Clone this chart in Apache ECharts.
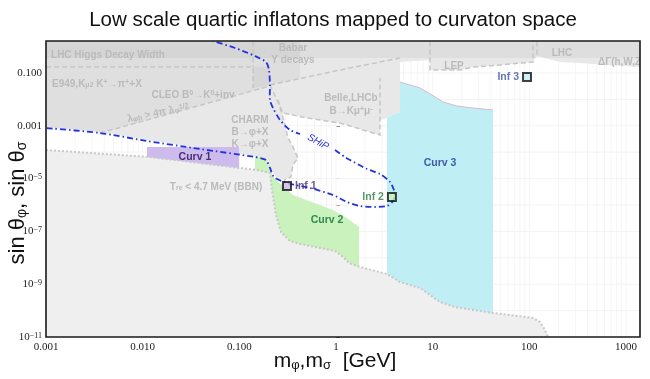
<!DOCTYPE html>
<html><head><meta charset="utf-8">
<script src="https://cdn.jsdelivr.net/npm/echarts@6/dist/echarts.min.js"></script>
<style>html,body{margin:0;padding:0;background:#fff}#c{width:650px;height:379px}</style>
</head><body><div id="c"></div>
<script>
// Every point is [log10(m / GeV), log10(sin θ)]
const xTickLabels = {'-3':'0.001','-2':'0.010','-1':'0.100','0':'1','1':'10','2':'100','3':'1000'};
const yTickLabels = {'-1':'0.100','-3':'0.001','-5':'10{s|−5}','-7':'10{s|−7}','-9':'10{s|−9}','-11':'10{s|−11}'};

const bbnEdge = [[-3.000,-3.917],[-1.924,-4.182],[-0.993,-4.598],[-0.817,-4.674],[-0.683,-4.788],[-0.662,-5.432],[-0.621,-6.379],[-0.569,-7.023],[-0.476,-7.364],[-0.372,-7.477],[-0.010,-7.742],[0.062,-7.932],[0.134,-8.197],[0.248,-8.348],[0.528,-8.614],[0.662,-8.917],[0.869,-9.144],[1.076,-9.674],[1.231,-9.864],[1.624,-10.091],[2.038,-10.280],[2.110,-10.432],[2.162,-10.735],[2.193,-11.0]];

const upperEdge = [[-3.000,-3.045],[-2.441,-3.235],[-1.955,-3.538],[-1.407,-3.841],[-0.838,-4.144],[-0.724,-4.220],[-0.683,-4.598],[-0.621,-4.939],[-0.538,-5.053],[-0.466,-4.939],[-0.445,-4.485],[-0.393,-4.220],[-0.455,-3.727],[-0.497,-3.462],[-0.528,-2.970],[-0.548,-2.515],[-0.300,-2.705],[0.041,-2.894],[0.455,-3.348],[0.455,-2.780],[0.528,-2.705],[0.600,-2.553],[0.662,-2.477],[0.662,-0.583],[0.972,-0.508],[0.972,-0.886],[1.283,-0.886],[1.417,-0.773],[1.697,-0.697],[2.038,-0.583],[2.079,-0.356],[2.317,-0.583],[2.524,-0.621],[2.803,-0.697],[3.145,-0.773]];

const higgsBand = [[-3.2,0.5],[-0.859,0.5],[-0.859,-0.773],[-3.2,-0.773]];
const topBand = [[-3.2,0.5],[3.3,0.5],[3.3,-0.432],[-3.2,-0.432]];
const e949Block = [[-3.2,-0.773],[-0.683,-0.773],[-0.683,-1.492],[-2.441,-3.273],[-3.2,-3.1]];
const babarBlock = [[-0.859,0.5],[-0.372,0.5],[-0.372,-1.189],[-0.683,-1.455],[-0.859,-1.568]];

const curv1 = [[-1.955,-3.803],[-1.003,-3.803],[-1.003,-4.598],[-1.955,-4.182]];
const curv2 = [[-0.838,-4.144],[-0.724,-4.220],[-0.683,-4.674],[-0.641,-4.977],[-0.445,-5.621],[-0.031,-6.189],[0.114,-6.492],[0.238,-6.833],[0.238,-8.348],[0.134,-8.197],[0.062,-7.932],[-0.010,-7.742],[-0.372,-7.477],[-0.476,-7.364],[-0.569,-7.023],[-0.621,-6.379],[-0.662,-5.432],[-0.683,-4.788],[-0.817,-4.674],[-0.838,-4.674]];
const curv3Top = [[0.528,-2.705],[0.600,-2.553],[0.662,-2.477],[0.662,-1.341],[0.766,-1.455],[0.869,-1.568],[0.993,-1.833],[1.107,-2.098],[1.252,-2.250],[1.417,-2.326],[1.624,-2.402]];
const curv3Bottom = [[1.624,-10.091],[1.231,-9.864],[1.076,-9.674],[0.869,-9.144],[0.662,-8.917],[0.528,-8.614]];

const shipUpper = [[-1.366,0.326],[-1.272,0.212],[-1.045,-0.053],[-0.838,-0.356],[-0.724,-0.583],[-0.693,-0.886],[-0.683,-1.455],[-0.683,-2.023],[-0.652,-2.326],[-0.579,-2.780],[-0.476,-3.159],[-0.372,-3.311]];
const shipLower = [[-0.010,-3.917],[0.093,-4.182],[0.145,-4.295],[0.321,-4.636],[0.455,-4.826],[0.559,-5.129],[0.600,-5.432],[0.610,-5.621],[0.590,-5.848],[0.528,-6.038],[0.403,-6.076],[0.248,-6.038],[0.114,-5.886],[-0.031,-5.621],[-0.269,-5.356],[-0.507,-5.167],[-0.641,-4.939],[-0.683,-4.598],[-0.724,-4.295],[-0.838,-4.182],[-1.407,-3.879],[-1.955,-3.576],[-2.441,-3.273],[-3.000,-3.083]];

const charmOutline = [[-0.600,-2.023],[-0.528,-2.970],[-0.497,-3.462],[-0.455,-3.727],[-0.393,-4.220],[-0.445,-4.485],[-0.466,-4.939],[-0.538,-5.053]];
const belleOutline = [[-0.683,-1.455],[-0.548,-2.515],[-0.300,-2.705],[0.041,-2.894],[0.455,-3.348],[0.455,-1.189]];
const lepOutline = [[0.972,0.5],[0.972,-0.886],[1.283,-0.886],[1.417,-0.773],[1.697,-0.697],[2.038,-0.583],[2.038,0.5]];
const lhcOutline = [[2.079,0.5],[2.079,-0.356]];
const higgsOutline = [[-3.0,-0.773],[-0.859,-0.773],[-0.859,-1.568]];
const higgsTop = [[-0.859,0.5],[-0.859,-0.773]];
const lambdaOutline = [[-2.441,-3.273],[-0.683,-1.492]];
const babarOutline = [[-0.683,-1.455],[0.041,-0.886],[0.662,-0.432]];

const infNames = ['Inf 1','Inf 2','Inf 3'];
const infMass = [0.311, 3.79, 94.6];
const infSin = [5.25e-6, 2.01e-6, 0.0705];

const grayLabels = [
  {p:[-2.948,-0.318], t:'LHC Higgs Decay Width', a:'left'},
  {p:[-2.938,-1.417], t:'E949,K{sub|μ2} K{sup|+}→π{sup|+}+X', a:'left'},
  {p:[-1.479,-1.833], t:'CLEO B{sup|0}→K{sup|0}+inv', a:'center'},
  {p:[-1.841,-2.515], t:'λ{sub|φh} > 4π λ{sub|φ}{sup|1/2}', a:'center', r:0.2},
  {p:[-0.445,-0.053], t:'Babar', a:'center'},
  {p:[-0.445,-0.508], t:'Υ decays', a:'center'},
  {p:[0.155,-1.947], t:'Belle,LHCb', a:'center'},
  {p:[0.155,-2.439], t:'B→Kμ{sup|+}μ{sup|-}', a:'center'},
  {p:[-0.890,-2.780], t:'CHARM', a:'center'},
  {p:[-0.890,-3.235], t:'B→φ+X', a:'center'},
  {p:[-0.890,-3.689], t:'K→φ+X', a:'center'},
  {p:[1.221,-0.735], t:'LEP', a:'center'},
  {p:[2.338,-0.242], t:'LHC', a:'center'},
  {p:[2.710,-0.583], t:'ΔΓ(h,W,Z)', a:'left'},
  {p:[-1.241,-5.318], t:'T{sub|re} < 4.7 MeV (BBN)', a:'center'}
];
const curvLabels = [
  {p:[-1.459,-4.182], t:'Curv 1', c:'#4b2e73'},
  {p:[-0.093,-6.568], t:'Curv 2', c:'#2f8a4f'},
  {p:[1.076,-4.409], t:'Curv 3', c:'#3e5cab'}
];

const FONT = '"Liberation Sans", Arial, Helvetica, sans-serif';
const SERIF = '"Liberation Serif", "Times New Roman", serif';

function polySeries(pts, style, z) {
  return {type:'custom', clip:true, silent:true, z:z, data:[pts[0]],
    renderItem:(p,api)=>({type:'polygon', shape:{points:pts.map(q=>api.coord(q))}, style:style})};
}
function lineSeries(pts, style, z, smooth) {
  return {type:'custom', clip:true, silent:true, z:z, data:[pts[0]],
    renderItem:(p,api)=>({type:'polyline', shape:{points:pts.map(q=>api.coord(q)), smooth:smooth||0}, style:Object.assign({fill:null}, style)})};
}
const subRich = {
  sub:{fontSize:7, verticalAlign:'bottom', lineHeight:9, fontWeight:'bold'},
  sup:{fontSize:7, verticalAlign:'top', lineHeight:9, fontWeight:'bold'}
};

const series = [];
// minor log grid
series.push({type:'custom', silent:true, clip:true, z:1, data:[[0,0]],
  renderItem:(p,api)=>{
    const ch=[]; 
    for (let d=-3; d<=3; d++) for (let k=1;k<=9;k++){
      const v=d+Math.log10(k); if (v>3.145) continue;
      const a=api.coord([v,-11]), b=api.coord([v,0.212]);
      ch.push({type:'line', shape:{x1:a[0],y1:a[1],x2:b[0],y2:b[1]}, style:{stroke:'#f5f5f5',lineWidth:1}});
    }
    for (let e=-11;e<=0;e++){
      const a=api.coord([-3,e]), b=api.coord([3.145,e]);
      ch.push({type:'line', shape:{x1:a[0],y1:a[1],x2:b[0],y2:b[1]}, style:{stroke:'#f3f3f3',lineWidth:1}});
    }
    return {type:'group', children:ch};
  }});
series.push(polySeries([[-3.3,0.6]].concat(upperEdge).concat([[3.3,-0.773],[3.3,0.6]]), {fill:'#e8e8e8'}, 2));
series.push(polySeries(topBand, {fill:'rgba(0,0,0,0.045)'}, 3));
series.push(polySeries(higgsBand, {fill:'rgba(0,0,0,0.04)'}, 3));
series.push(polySeries(e949Block, {fill:'rgba(0,0,0,0.035)'}, 3));
series.push(polySeries(babarBlock, {fill:'rgba(0,0,0,0.04)'}, 3));
series.push(polySeries(bbnEdge.concat([[2.193,-11.3],[-3.3,-11.3],[-3.3,-3.917]]), {fill:'#efefef'}, 3));
series.push(polySeries(curv1, {fill:'#cdbbee'}, 4));
series.push(polySeries(curv2, {fill:'#c9f2bd'}, 4));
series.push(polySeries(curv3Top.concat(curv3Bottom), {fill:'#bfeef4'}, 4));
series.push(lineSeries(curv3Top.slice(3), {stroke:'#d7b9d4', lineWidth:1}, 5));
const dashGray = {stroke:'#c6c6c6', lineWidth:1.5, lineDash:[5,3]};
[charmOutline, belleOutline, lepOutline, lhcOutline, higgsOutline, higgsTop, lambdaOutline, babarOutline].forEach(o=>series.push(lineSeries(o, dashGray, 5)));
series.push(lineSeries(bbnEdge, {stroke:'#c8c8c8', lineWidth:2, lineDash:[2,2]}, 5));
const shipStyle = {stroke:'#2233dd', lineWidth:1.8, lineDash:[6,3,1.5,3]};
series.push(lineSeries(shipUpper, shipStyle, 6, 0.25));
series.push(lineSeries(shipLower, shipStyle, 6, 0.25));
// region labels
series.push({type:'custom', silent:true, clip:true, z:7, data:grayLabels.map(l=>l.p),
  renderItem:(p,api)=>{
    const l=grayLabels[p.dataIndex]; const c=api.coord([api.value(0),api.value(1)]);
    return {type:'text', x:c[0], y:c[1], rotation:l.r||0,
      style:{text:l.t, fill:'#bababa', font:'bold 10px '+FONT, align:l.a, verticalAlign:'middle', rich:subRich}};
  }});
series.push({type:'custom', silent:true, clip:true, z:7, data:curvLabels.map(l=>l.p),
  renderItem:(p,api)=>{
    const l=curvLabels[p.dataIndex]; const c=api.coord([api.value(0),api.value(1)]);
    return {type:'text', x:c[0], y:c[1], style:{text:l.t, fill:l.c, font:'bold 10.5px '+FONT, align:'center', verticalAlign:'middle'}};
  }});
series.push({type:'custom', silent:true, clip:true, z:7, data:[[-0.186,-3.614]],
  renderItem:(p,api)=>{const c=api.coord([api.value(0),api.value(1)]);
    return {type:'text', x:c[0], y:c[1], rotation:-0.5, style:{text:'SHiP', fill:'#2233dd', font:'italic 10px '+FONT, align:'center', verticalAlign:'middle'}};}});
// inflaton markers
const infFill = ['#cbb9ec','#c9f2bd','#bfeef4'];
const infText = ['#4b2e73','#2f7a48','#3e56a8'];
const infPos = ['right','left','left'];
series.push({type:'scatter', z:8, symbol:'rect', symbolSize:8,
  data: infNames.map((n,i)=>({value:[Math.log10(infMass[i]), Math.log10(infSin[i])], name:n,
    itemStyle:{color:infFill[i], borderColor:'#111', borderWidth:2},
    label:{show:true, formatter:n, position:infPos[i], distance:3, color:infText[i], fontWeight:'bold', fontSize:10.5, fontFamily:FONT}}))});

const chart = echarts.init(document.getElementById('c'), null, {renderer:'canvas'});
chart.setOption({
  animation:false,
  grid:{left:46, right:10, top:41, bottom:42, show:false},
  xAxis:{type:'value', min:-3, max:3.145, interval:1,
    axisLine:{show:false}, splitLine:{show:false},
    axisTick:{show:true, inside:true, length:4, lineStyle:{color:'#666'}},
    axisLabel:{showMaxLabel:false, margin:5, color:'#222', fontFamily:SERIF, fontSize:11,
      formatter:v=>xTickLabels[String(Math.round(v))] !== undefined && Math.abs(v-Math.round(v))<1e-6 ? xTickLabels[String(Math.round(v))] : ''}},
  yAxis:{type:'value', min:-11, max:0.212, interval:1,
    axisLine:{show:false}, splitLine:{show:false},
    axisTick:{show:true, inside:true, length:4, lineStyle:{color:'#666'}},
    axisLabel:{showMaxLabel:false, margin:4, color:'#222', fontFamily:SERIF, fontSize:11,
      formatter:v=>{const r=Math.round(v); if (Math.abs(v-r)>1e-6) return ''; return yTickLabels[String(r)]||'';},
      rich:{s:{fontSize:8, verticalAlign:'top', lineHeight:8, fontFamily:SERIF, color:'#222'}}}},
  graphic:[
    {type:'rect', z:100, shape:{x:46, y:41, width:594, height:296}, style:{fill:null, stroke:'#1a1a1a', lineWidth:1.6}},
    {type:'text', z:100, x:333, y:20, style:{text:'Low scale quartic inflatons mapped to curvaton space', font:'20.5px '+FONT, fill:'#111', align:'center', verticalAlign:'middle'}},
    {type:'text', z:100, x:335, y:361, style:{text:'m{b|φ},m{b|σ}  [GeV]', font:'21px '+FONT, fill:'#111', align:'center', verticalAlign:'middle',
      rich:{b:{fontSize:13, verticalAlign:'bottom', lineHeight:13}}}},
    {type:'text', z:100, x:18, y:203, rotation:Math.PI/2, style:{text:'sin θ{b|φ}, sin θ{b|σ}', font:'22px '+FONT, fill:'#111', align:'center', verticalAlign:'middle',
      rich:{b:{fontSize:14, verticalAlign:'bottom', lineHeight:14}}}}
  ],
  series: series
});
</script></body></html>
